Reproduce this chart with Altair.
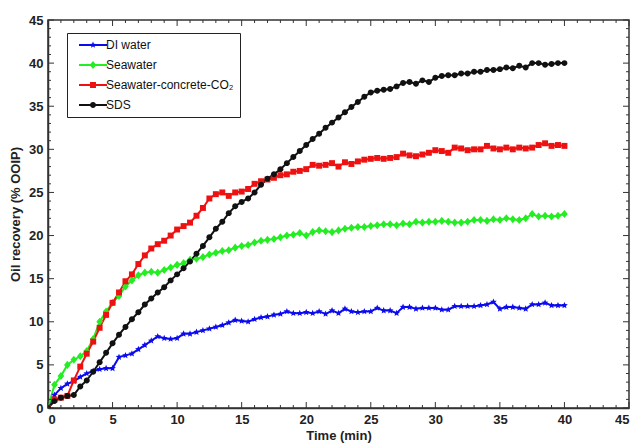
import altair as alt
import pandas as pd

time_min = [0, 0.5, 1, 1.5, 2, 2.5, 3, 3.5, 4, 4.5, 5, 5.5, 6, 6.5, 7, 7.5, 8, 8.5, 9, 9.5,
            10, 10.5, 11, 11.5, 12, 12.5, 13, 13.5, 14, 14.5, 15, 15.5, 16, 16.5, 17, 17.5, 18, 18.5, 19, 19.5,
            20, 20.5, 21, 21.5, 22, 22.5, 23, 23.5, 24, 24.5, 25, 25.5, 26, 26.5, 27, 27.5, 28, 28.5, 29, 29.5,
            30, 30.5, 31, 31.5, 32, 32.5, 33, 33.5, 34, 34.5, 35, 35.5, 36, 36.5, 37, 37.5, 38, 38.5, 39, 39.5, 40]

di_water = [0, 1.5, 2.3, 2.8, 3.1, 3.6, 4.0, 4.3, 4.5, 4.6, 4.6, 5.9, 6.1, 6.3, 6.8, 7.3, 7.8, 8.3, 8.1, 8.0,
            8.1, 8.6, 8.6, 8.8, 9.0, 9.2, 9.4, 9.6, 9.9, 10.2, 10.1, 10.0, 10.3, 10.5, 10.6, 10.8, 10.9, 11.2, 11.0, 11.0,
            11.1, 11.0, 11.2, 10.9, 11.3, 11.0, 11.5, 11.2, 11.1, 11.2, 11.2, 11.6, 11.3, 11.3, 11.0, 11.7, 11.7, 11.5, 11.6, 11.6,
            11.6, 11.4, 11.4, 11.8, 11.8, 11.8, 11.8, 11.9, 12.0, 12.3, 11.5, 11.7, 11.7, 11.6, 11.5, 12.0, 12.0, 12.2, 11.9, 11.9, 11.9]

seawater = [0, 2.7, 3.7, 5.0, 5.6, 6.0, 6.6, 8.0, 10.0, 11.2, 12.2, 13.0, 14.1, 14.8, 15.4, 15.7, 15.8, 15.7, 16.0, 16.3,
            16.6, 16.8, 17.2, 17.3, 17.5, 17.8, 18.0, 18.2, 18.3, 18.6, 18.8, 18.9, 19.2, 19.4, 19.5, 19.6, 19.8, 20.0, 20.1, 20.3,
            20.0, 20.4, 20.6, 20.5, 20.4, 20.6, 20.8, 20.9, 21.0, 21.0, 21.1, 21.2, 21.3, 21.3, 21.2, 21.4, 21.3, 21.6, 21.5, 21.6,
            21.6, 21.7, 21.6, 21.5, 21.5, 21.6, 21.8, 21.8, 21.7, 21.9, 21.8, 22.0, 21.9, 21.8, 22.0, 22.5, 22.2, 22.3, 22.2, 22.3, 22.5]

seawater_co2 = [0, 1.0, 1.2, 1.4, 3.2, 4.8, 6.3, 7.7, 9.3, 10.8, 12.2, 13.4, 14.7, 15.5, 16.7, 17.7, 18.5, 19.0, 19.4, 20.0,
                20.7, 21.1, 21.5, 22.3, 23.2, 24.3, 24.8, 25.0, 24.6, 25.0, 25.1, 25.4, 26.0, 26.3, 26.5, 26.7, 27.0, 27.1, 27.4, 27.5,
                27.7, 28.2, 28.1, 28.2, 28.4, 28.0, 28.5, 28.3, 28.6, 28.8, 28.9, 29.0, 28.9, 29.0, 29.1, 29.5, 29.3, 29.2, 29.4, 29.6,
                29.9, 29.8, 29.6, 30.2, 30.1, 29.9, 30.0, 30.0, 30.4, 30.1, 30.0, 30.2, 30.0, 30.2, 30.1, 30.2, 30.5, 30.7, 30.4, 30.5, 30.4]

sds = [0, 0.8, 1.2, 1.4, 1.5, 2.5, 3.2, 4.2, 5.3, 6.4, 7.5, 8.5, 9.4, 10.3, 11.1, 12.0, 12.7, 13.4, 14.0, 14.8,
       15.5, 16.2, 17.0, 17.9, 18.8, 19.8, 20.8, 21.6, 22.6, 23.4, 23.9, 24.3, 25.0, 25.9, 26.6, 27.1, 27.7, 28.4, 29.1, 29.8,
       30.5, 31.2, 31.8, 32.5, 33.1, 33.7, 34.3, 34.9, 35.5, 36.1, 36.6, 36.8, 36.9, 37.0, 37.3, 37.7, 37.8, 37.6, 38.0, 37.8,
       38.3, 38.5, 38.6, 38.6, 38.8, 38.8, 39.0, 39.0, 39.2, 39.2, 39.3, 39.5, 39.4, 39.7, 39.5, 40.0, 40.0, 39.8, 39.9, 40.0, 40.0]

series_names = ["DI water", "Seawater", "Seawater-concrete-CO\u2082", "SDS"]
series_colors = ["#0b0bf0", "#22ee22", "#ee1111", "#111111"]
x_ticks = [0, 5, 10, 15, 20, 25, 30, 35, 40, 45]
y_ticks = [0, 5, 10, 15, 20, 25, 30, 35, 40, 45]
minor_ticks = list(range(0, 46))

rows = []
for name, vals in zip(series_names, [di_water, seawater, seawater_co2, sds]):
    for t, v in zip(time_min, vals):
        rows.append({"t": t, "v": v, "series": name})
df = pd.DataFrame(rows)

W, H = 581, 388


def poly(points, dx=0.0):
    return "M" + " L".join(f"{dx + x:.3f},{y:.3f}" for x, y in points) + " Z"


def circle(r, dx=0.0):
    return f"M{dx - r:.3f},0 A{r},{r} 0 1,1 {dx + r:.3f},0 A{r},{r} 0 1,1 {dx - r:.3f},0 Z"


star_pts = [(0, -1), (0.265, -0.364), (0.951, -0.309), (0.428, 0.139), (0.588, 0.809),
            (0, 0.45), (-0.588, 0.809), (-0.428, 0.139), (-0.951, -0.309), (-0.265, -0.364)]
diamond_pts = [(0, -1.15), (0.95, 0), (0, 1.15), (-0.95, 0)]
square_pts = [(-0.85, -0.85), (0.85, -0.85), (0.85, 0.85), (-0.85, 0.85)]

marker_paths = [poly(star_pts), poly(diamond_pts), poly(square_pts), circle(0.85)]
line_path = "M0,-0.3 L8,-0.3 L8,0.3 L0,0.3 Z"
leg_paths = [
    line_path + " " + poly(star_pts, 4),
    line_path + " " + poly(diamond_pts, 4),
    line_path + " " + poly(square_pts, 4),
    line_path + " " + circle(0.85, 4),
]

xs = alt.Scale(domain=[0, 45], nice=False, zero=False)
ys = alt.Scale(domain=[0, 45], nice=False, zero=False)
cs = alt.Scale(domain=series_names, range=series_colors)

X = alt.X("t:Q", scale=xs, axis=alt.Axis(values=x_ticks, title="Time (min)", titlePadding=3))
Y = alt.Y("v:Q", scale=ys, axis=alt.Axis(values=y_ticks, title="Oil recovery (% OOIP)", titlePadding=6))

base = alt.Chart(df)

lines = base.mark_line(strokeWidth=2, clip=True).encode(
    x=X, y=Y, color=alt.Color("series:N", scale=cs, legend=None), detail="series:N")

points = base.mark_point(filled=True, opacity=1, strokeWidth=0, size=49, clip=True).encode(
    x=X, y=Y,
    color=alt.Color("series:N", scale=cs, legend=None),
    shape=alt.Shape("series:N", scale=alt.Scale(domain=series_names, range=marker_paths), legend=None),
)

# legend-only layer: its points are pushed outside the fixed domain and clipped away
legend_layer = base.transform_calculate(off="datum.v + 1000").mark_point(
    filled=True, opacity=1, size=49, clip=True, strokeWidth=0).encode(
    x=alt.X("t:Q", scale=xs),
    y=alt.Y("off:Q", scale=ys),
    color=alt.Color("series:N", scale=cs, legend=alt.Legend(
        title=None, orient="none", legendX=19, legendY=13, padding=6,
        strokeColor="#222", fillColor="white", symbolSize=49, symbolOpacity=1,
        symbolStrokeWidth=0, labelFont="Liberation Sans", labelFontSize=12, labelColor="#111",
        labelOffset=21, rowPadding=8)),
    shape=alt.Shape("series:N", scale=alt.Scale(domain=series_names, range=leg_paths)),
)

tick_df = pd.DataFrame({"p": minor_ticks})
tick_df["major"] = tick_df["p"] % 5 == 0
tb = alt.Chart(tick_df)
tick_layers = []
for major, ln in [(True, 6), (False, 3)]:
    sel = tb.transform_filter(alt.datum.major == major)
    tx = alt.X("p:Q", scale=xs)
    ty = alt.Y("p:Q", scale=ys)
    tick_layers += [
        sel.mark_rule(color="#333", strokeWidth=1).encode(x=tx, y=alt.value(H), y2=alt.value(H - ln)),
        sel.mark_rule(color="#333", strokeWidth=1).encode(x=tx, y=alt.value(0), y2=alt.value(ln)),
        sel.mark_rule(color="#333", strokeWidth=1).encode(y=ty, x=alt.value(0), x2=alt.value(ln)),
        sel.mark_rule(color="#333", strokeWidth=1).encode(y=ty, x=alt.value(W), x2=alt.value(W - ln)),
    ]

chart = alt.layer(lines, points, legend_layer, *tick_layers).resolve_scale(
    color="independent", shape="independent"
).properties(
    width=W, height=H,
    autosize=alt.AutoSizeParams(type="none"),
    padding={"left": 48, "top": 20, "right": 9, "bottom": 37},
).configure_view(
    stroke="#333", strokeWidth=1.5
).configure_axis(
    labelFont="Liberation Sans", labelFontWeight="bold", labelFontSize=13, labelColor="#222",
    titleFont="Liberation Sans", titleFontWeight="bold", titleFontSize=13, titleColor="#222",
    domainColor="#333", domainWidth=1.5, ticks=False, grid=False, labelPadding=5,
)

chart.save("out.html", embed_options={"renderer": "svg", "actions": False})
